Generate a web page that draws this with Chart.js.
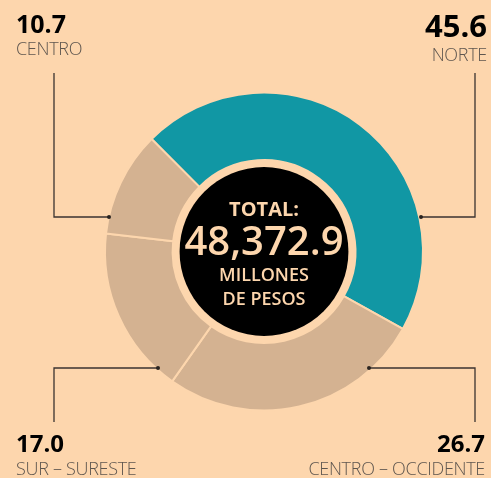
<!DOCTYPE html>
<html>
<head>
<meta charset="utf-8">
<script src="https://cdn.jsdelivr.net/npm/chart.js@4"></script>
<style>
  html, body { margin: 0; padding: 0; background: #fdd6ad; }
  #wrap { position: relative; width: 491px; height: 478px; overflow: hidden; font-family: 'Open Sans', sans-serif; }
  canvas { position: absolute; left: 0; top: 0; }
  .val { position: absolute; font-weight: 700; color: #000; line-height: 1; white-space: nowrap; }
  .nom { position: absolute; font-weight: 300; color: #5e564f; font-size: 18px; line-height: 1; white-space: nowrap; letter-spacing: -0.3px; }
  .centro { position: absolute; left: 164px; width: 200px; text-align: center; color: #fdd6ad; line-height: 1; white-space: nowrap; }
</style>
</head>
<body>
<div id="wrap">
  <canvas id="chart" width="491" height="478"></canvas>
</div>
<script>
const regiones = ['NORTE', 'CENTRO – OCCIDENTE', 'SUR – SURESTE', 'CENTRO'];
const porcentajes = [45.6, 26.7, 17.0, 10.7];
const colores = ['#1197a4', '#d4b291', '#d4b291', '#d4b291'];
const total = '48,372.9';

const FONDO = '#fdd6ad';

// posición de cada etiqueta (mismo orden que regiones)
const ETIQUETAS = [
  { lado: 'right', x: 4, yVal: 9.5, fs: 31, yNom: 45 },
  { lado: 'right', x: 6, yVal: 431, fs: 24, yNom: 459 },
  { lado: 'left', x: 16, yVal: 431, fs: 24, yNom: 459 },
  { lado: 'left', x: 16, yVal: 11, fs: 25, yNom: 39 },
];

// líneas guía: [x vertical, y inicio, y codo, x punta]
const GUIAS = [
  [475, 73, 217, 421],
  [475, 422, 368, 369],
  [54, 422, 368, 158],
  [54, 73, 217, 109],
];

const wrap = document.getElementById('wrap');
regiones.forEach((r, i) => {
  const e = ETIQUETAS[i];
  const v = document.createElement('div');
  v.className = 'val';
  v.style.fontSize = e.fs + 'px';
  v.style.top = e.yVal + 'px';
  v.style[e.lado] = e.x + 'px';
  v.textContent = porcentajes[i].toFixed(1);
  wrap.appendChild(v);
  const n = document.createElement('div');
  n.className = 'nom';
  n.style.top = e.yNom + 'px';
  n.style[e.lado] = e.x + 'px';
  n.textContent = r;
  wrap.appendChild(n);
});

[['TOTAL:', 20, 198.5, 700], [total, 40, 220, 600], ['MILLONES', 18, 265, 600], ['DE PESOS', 18, 289, 600]].forEach(([t, fs, top, w]) => {
  const d = document.createElement('div');
  d.className = 'centro';
  d.style.fontSize = fs + 'px';
  d.style.top = top + 'px';
  d.style.fontWeight = w;
  d.textContent = t;
  wrap.appendChild(d);
});

const extras = {
  id: 'extras',
  afterDatasetsDraw(chart) {
    const ctx = chart.ctx;
    const arc = chart.getDatasetMeta(0).data[0];
    ctx.save();
    ctx.fillStyle = '#000';
    ctx.beginPath();
    ctx.arc(arc.x, arc.y, arc.innerRadius - 7, 0, Math.PI * 2);
    ctx.fill();

    ctx.strokeStyle = '#3b3330';
    ctx.fillStyle = '#2a2420';
    ctx.lineWidth = 1.3;
    GUIAS.forEach(([xv, y0, y1, xp]) => {
      ctx.beginPath();
      ctx.moveTo(xv, y0);
      ctx.lineTo(xv, y1);
      ctx.lineTo(xp, y1);
      ctx.stroke();
      ctx.beginPath();
      ctx.arc(xp, y1, 2, 0, Math.PI * 2);
      ctx.fill();
    });
    ctx.restore();
  },
};

new Chart(document.getElementById('chart'), {
  type: 'doughnut',
  data: {
    labels: regiones,
    datasets: [{
      data: porcentajes,
      backgroundColor: colores,
      borderColor: FONDO,
      borderWidth: 2,
      hoverOffset: 0,
    }],
  },
  options: {
    responsive: false,
    animation: false,
    rotation: -45,
    cutout: '57.5%',
    layout: { padding: { left: 104, right: 67, top: 91.5, bottom: 66.5 } },
    plugins: { legend: { display: false }, tooltip: { enabled: false } },
  },
  plugins: [extras],
});
</script>
</body>
</html>
